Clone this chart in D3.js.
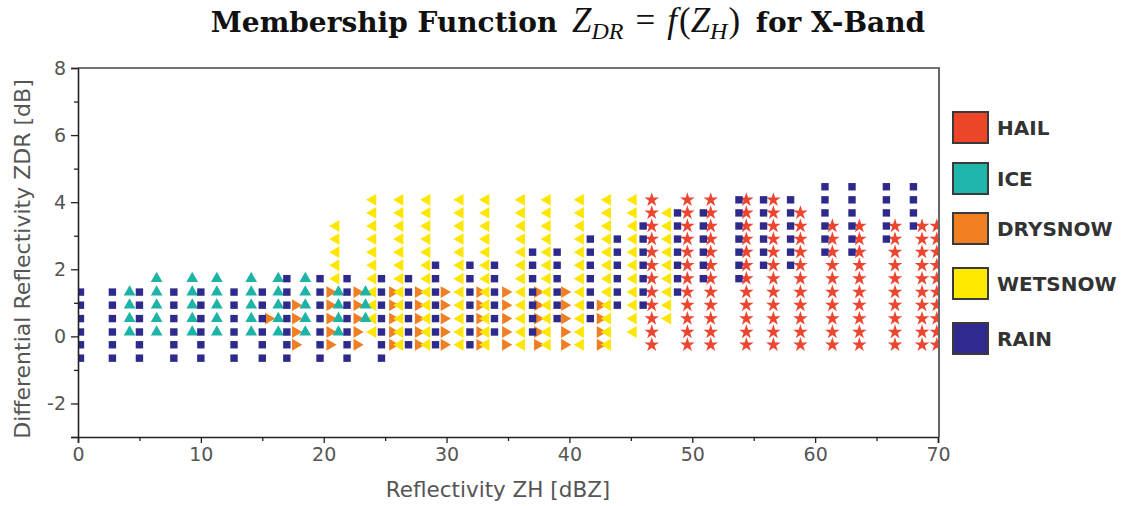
<!DOCTYPE html>
<html>
<head>
<meta charset="utf-8">
<script src="https://cdn.jsdelivr.net/npm/d3@7"></script>
<style>
  body { margin: 0; background: #fff; }
  svg { display: block; }
</style>
</head>
<body>
<svg id="chart" width="1125" height="506"></svg>
<script>
// ZDR levels of the membership grid (dB)
const zdrLevels = [-0.65, -0.25, 0.13, 0.53, 0.93, 1.32, 1.72, 2.12, 2.51, 2.90, 3.29, 3.68, 4.07, 4.46];

// Class columns: [ZH (dBZ), lowest ZDR level index, highest ZDR level index]
const rainCols = [
  [0.2, 0, 5], [2.8, 0, 5], [5.0, 0, 5], [7.8, 0, 5], [10.0, 0, 5], [12.7, 0, 5],
  [15.0, 0, 5], [17.0, 0, 6], [19.7, 0, 6], [21.9, 0, 6], [24.7, 0, 6], [26.9, 1, 6],
  [29.1, 1, 7], [31.9, 1, 7], [33.9, 2, 7], [37.0, 2, 8], [39.0, 3, 8], [41.7, 3, 9],
  [43.9, 4, 9], [46.0, 4, 10], [48.8, 5, 11], [50.9, 6, 11], [53.8, 6, 12], [55.8, 7, 12],
  [58.0, 7, 12], [60.8, 8, 13], [63.0, 8, 13], [65.8, 9, 13], [68.0, 10, 13]
];
const iceCols = [
  [4.2, 2, 5], [6.4, 2, 6], [9.3, 2, 6], [11.3, 2, 6], [14.1, 2, 6],
  [16.3, 2, 6], [18.5, 2, 6], [21.2, 2, 5], [23.4, 3, 5]
];
const drySnowCols = [
  [15.5, 3, 3], [17.7, 1, 4], [20.5, 1, 5], [22.7, 1, 5], [25.6, 1, 5], [27.7, 1, 5],
  [29.8, 1, 5], [32.7, 1, 5], [34.8, 1, 5], [37.4, 1, 5], [39.6, 1, 5], [42.5, 1, 4]
];
const wetSnowCols = [
  [21.0, 6, 10], [24.0, 2, 12], [26.2, 1, 12], [28.4, 1, 12], [31.1, 1, 12], [33.2, 1, 12],
  [36.1, 1, 12], [38.2, 1, 12], [40.9, 1, 12], [43.1, 1, 12], [45.2, 2, 12], [48.0, 3, 11]
];
const hailCols = [
  [46.7, 1, 12], [49.6, 1, 12], [51.5, 1, 12], [54.4, 1, 12], [56.6, 1, 12], [58.8, 1, 11],
  [61.4, 1, 10], [63.6, 1, 10], [66.5, 1, 10], [68.7, 1, 10], [69.9, 1, 10]
];

const classNames = ["HAIL", "ICE", "DRYSNOW", "WETSNOW", "RAIN"];
const classColors = ["#ec4527", "#1fb5aa", "#f07f22", "#ffe900", "#30298f"];
const markerColors = { RAIN: "#2e2a8c", ICE: "#1db3a6", DRYSNOW: "#f07e22", WETSNOW: "#ffe600", HAIL: "#ec4530" };

const xTickValues = [0, 5, 10, 15, 20, 25, 30, 35, 40, 45, 50, 55, 60, 65, 70];
const xTickLabels = ["0", "10", "20", "30", "40", "50", "60", "70"];
const yTickValues = [-3, -2, -1, 0, 1, 2, 3, 4, 5, 6, 7, 8];
const yTickLabels = ["-2", "0", "2", "4", "6", "8"];

const svg = d3.select("#chart");
const W = 1125, H = 506;
const plot = { left: 78, right: 938, top: 68, bottom: 437 };

const x = d3.scaleLinear().domain([0, 70]).range([plot.left, plot.right]);
const y = d3.scaleLinear().domain([-3, 8]).range([plot.bottom, plot.top]);

svg.append("rect").attr("width", W).attr("height", H).attr("fill", "#fff");

// ---- Title: Membership Function Z_DR = f(Z_H) for X-Band
const title = svg.append("text")
  .attr("x", 568).attr("y", 32)
  .attr("text-anchor", "middle")
  .attr("fill", "#111")
  .style("font-family", "'DejaVu Serif', serif")
  .style("font-weight", "bold")
  .style("font-size", "28px");
const part = (t, kind, dy, dx) => {
  const s = title.append("tspan").text(t);
  if (dy) s.attr("dy", dy);
  if (dx) s.attr("dx", dx);
  if (kind === "text") return s;
  s.style("font-family", "'Liberation Serif', serif").style("font-weight", "normal");
  s.style("font-style", kind === "rm" ? "normal" : "italic");
  s.style("font-size", kind === "sub" ? "24px" : "35px");
  return s;
};
part("Membership Function ", "text");
part("Z", "it", 0, 5);
part("DR", "sub", 7);
part("=", "rm", -7, 12);
part("f", "it", 0, 12);
part("(", "rm", 0, 2);
part("Z", "it");
part("H", "sub", 7);
part(")", "rm", -7, 1);
part(" for X-Band", "text", 0, 6);

// ---- Markers
svg.append("clipPath").attr("id", "plot-clip")
  .append("rect")
  .attr("x", plot.left).attr("y", plot.top)
  .attr("width", plot.right - plot.left).attr("height", plot.bottom - plot.top);

const markers = svg.append("g").attr("clip-path", "url(#plot-clip)");

function expand(cols) {
  const pts = [];
  cols.forEach(([zh, lo, hi]) => {
    for (let k = lo; k <= hi; k++) pts.push({ zh: zh, zdr: zdrLevels[k] });
  });
  return pts;
}

const layers = [
  { name: "HAIL", cols: hailCols, symbol: d3.symbolStar, size: 66, rot: 0 },
  { name: "DRYSNOW", cols: drySnowCols, symbol: d3.symbolTriangle, size: 60, rot: 90 },
  { name: "WETSNOW", cols: wetSnowCols, symbol: d3.symbolTriangle, size: 60, rot: -90 },
  { name: "ICE", cols: iceCols, symbol: d3.symbolTriangle, size: 60, rot: 0 },
  { name: "RAIN", cols: rainCols, symbol: d3.symbolSquare, size: 55, rot: 0 }
];

layers.forEach(layer => {
  const path = d3.symbol().type(layer.symbol).size(layer.size)();
  markers.append("g").attr("class", "series-" + layer.name)
    .selectAll("path")
    .data(expand(layer.cols))
    .join("path")
    .attr("d", path)
    .attr("transform", d => `translate(${x(d.zh)},${y(d.zdr)}) rotate(${layer.rot})`)
    .attr("fill", markerColors[layer.name]);
});

// ---- Axes
const tickFont = "'DejaVu Sans', sans-serif";

const yAxis = d3.axisLeft(y)
  .tickValues(yTickValues)
  .tickSizeOuter(0)
  .tickSize(7)
  .tickPadding(5)
  .tickFormat(d => yTickLabels.includes(String(d)) ? String(d) : "");
const gy = svg.append("g").attr("transform", `translate(${plot.left},0)`).call(yAxis);
gy.selectAll(".tick line")
  .attr("x2", d => (yTickLabels.includes(String(d)) || d === -3) ? -7 : -4)
  .attr("stroke", "#222").attr("stroke-width", 1.3);

const xAxis = d3.axisBottom(x)
  .tickValues(xTickValues)
  .tickSizeOuter(0)
  .tickSize(6)
  .tickPadding(5)
  .tickFormat(d => xTickLabels.includes(String(d)) ? String(d) : "");
const gx = svg.append("g").attr("transform", `translate(0,${plot.bottom})`).call(xAxis);
gx.selectAll(".tick line")
  .attr("y2", d => xTickLabels.includes(String(d)) ? 6 : 4)
  .attr("stroke", "#222").attr("stroke-width", 1.3);

[gx, gy].forEach(g => {
  g.select(".domain").attr("stroke", "#222").attr("stroke-width", 1.6);
  g.selectAll(".tick text")
    .attr("fill", "#555")
    .style("font-family", tickFont)
    .style("font-size", "19px");
});

// Frame top and right edges
svg.append("line")
  .attr("x1", plot.left).attr("x2", plot.right + 2)
  .attr("y1", plot.top).attr("y2", plot.top)
  .attr("stroke", "#444").attr("stroke-width", 1.6);
svg.append("line")
  .attr("x1", plot.right + 1).attr("x2", plot.right + 1)
  .attr("y1", plot.top).attr("y2", plot.bottom)
  .attr("stroke", "#666").attr("stroke-width", 2);

// Axis titles
svg.append("text")
  .attr("x", 498).attr("y", 497)
  .attr("text-anchor", "middle")
  .attr("fill", "#555")
  .style("font-family", tickFont).style("font-size", "21.5px")
  .text("Reflectivity ZH [dBZ]");

svg.append("text")
  .attr("transform", "translate(30,259) rotate(-90)")
  .attr("text-anchor", "middle")
  .attr("fill", "#555")
  .style("font-family", tickFont).style("font-size", "22px")
  .text("Differential Reflectivity ZDR [dB]");

// ---- Legend
const legendTops = [112, 163, 213, 268, 323];
const legend = svg.append("g");
classNames.forEach((name, i) => {
  legend.append("rect")
    .attr("x", 953).attr("y", legendTops[i])
    .attr("width", 35).attr("height", 31)
    .attr("fill", classColors[i])
    .attr("stroke", "#3a3a3a").attr("stroke-width", 2);
  legend.append("text")
    .attr("x", 997).attr("y", legendTops[i] + 23)
    .attr("fill", "#333")
    .style("font-family", tickFont).style("font-weight", "bold").style("font-size", "20px")
    .text(name);
});
</script>
</body>
</html>
